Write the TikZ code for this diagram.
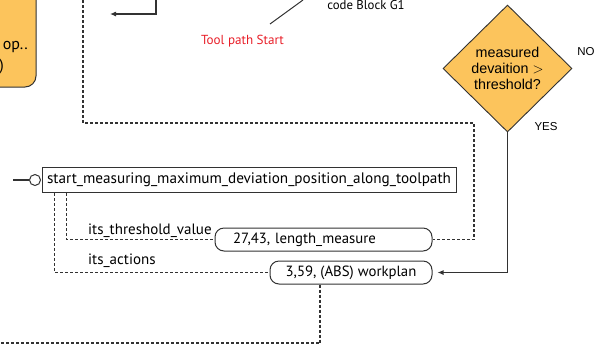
\documentclass[tikz,border=0pt]{standalone}
\usepackage{fontspec}
\setmainfont{PT Sans}
\newfontfamily\arialf{Liberation Sans}
\usetikzlibrary{shapes.geometric,arrows.meta}
\definecolor{orangefill}{RGB}{252,196,92}
\definecolor{linegray}{RGB}{50,50,50}
\definecolor{redtext}{RGB}{232,30,40}
\tikzset{
  solidline/.style={draw=linegray, line width=1.1pt},
  dotline/.style={draw=linegray, line width=1.2pt, dash pattern=on 3pt off 2pt},
  arrowline/.style={solidline, -{Latex[length=6pt,width=5pt]}},
  pill/.style={draw=linegray, line width=1pt, rounded corners=9pt, minimum height=23pt, inner sep=0pt, font=\fontsize{14.8}{16}\selectfont},
  mainbox/.style={draw=linegray, line width=1pt, minimum width=414pt, minimum height=25pt, inner sep=0pt, font=\fontsize{15.2}{17}\selectfont},
  decision/.style={diamond, draw=linegray, line width=0.9pt, fill=orangefill, minimum width=129pt, minimum height=127pt, inner sep=0pt, align=center, font=\arialf\fontsize{14.3}{16}\selectfont},
  lbl/.style={inner sep=0pt, font=\fontsize{15}{17}\selectfont},
  arlbl/.style={inner sep=0pt, font=\arialf\fontsize{11.5}{14}\selectfont},
}
\begin{document}
\begin{tikzpicture}[x=1pt,y=-1pt]
\useasboundingbox (0,0) rectangle (604,349);
% orange box at left, clipped
\begin{scope}
\clip (0,0) rectangle (604,349);
\draw[draw=linegray, line width=1pt, fill=orangefill, rounded corners=11pt] (-30,-20) rectangle (36,87);
\node[lbl, anchor=east, font=\fontsize{16}{18}\selectfont] (optext) at (28,47) {op..};
\node[lbl, anchor=east, font=\fontsize{16}{18}\selectfont] (partext) at (4,67) {)};
\end{scope}

% free ends
\coordinate (topdash) at (83,0);
\coordinate (dashcorner) at (474,123);
\coordinate (arrowtop) at (156,0);
\coordinate (arrowend) at (110,14);
\coordinate (diagtop) at (303,0);
\coordinate (diagbot) at (270,24);
\coordinate (bottomcorner) at (320,343);
\coordinate (bottomend) at (0,343);
\coordinate (portend) at (13,180);

% texts
\node[lbl, font=\fontsize{12.8}{14}\selectfont] (codeblock) at (366,5) {code Block G1};
\node[lbl, text=redtext, font=\fontsize{13.1}{14}\selectfont] (toolpath) at (242.5,41) {Tool path Start};

% decision
\node[decision] (dec) at (507.5,68.5) {measured\\devaition $>$\\threshold?};
\node[arlbl] (no) at (586,52) {NO};
\node[arlbl] (yes) at (546,127) {YES};

% main box
\node[mainbox] (main) at (249,180) {start\_measuring\_maximum\_deviation\_position\_along\_toolpath};
\node[circle, draw=linegray, line width=1pt, minimum size=11pt, inner sep=0pt, fill=white] (port) at (35,180) {};

% pills
\node[pill, text width=181pt, inner xsep=18pt, align=left] (pill1) at (323.5,239.5) {27,43, length\_measure};
\node[pill, minimum width=162pt] (pill2) at (351,272.5) {3,59, (ABS) workplan};

% labels
\node[lbl, anchor=south west] (thr) at (88,238) {its\_threshold\_value};
\node[lbl, anchor=south west] (act) at (88,268) {its\_actions};

% connectors
\draw[solidline, line width=2.5pt] (portend) -- (port.west);
\draw[dotline] (topdash) |- (dashcorner) |- (pill1.east);
\draw[arrowline] (arrowtop) |- (arrowend);
\draw[solidline, line width=1pt] (diagtop) -- (diagbot);
\draw[arrowline, shorten >=5pt] (dec.south) |- (pill2.east);
\draw[dotline] ([xshift=25pt]main.south west) |- (pill1.west);
\draw[dotline] ([xshift=13pt]main.south west) |- (pill2.west);
\draw[dotline] (pill2.south -| bottomcorner) -- (bottomcorner) -- (bottomend);
\end{tikzpicture}
\end{document}
